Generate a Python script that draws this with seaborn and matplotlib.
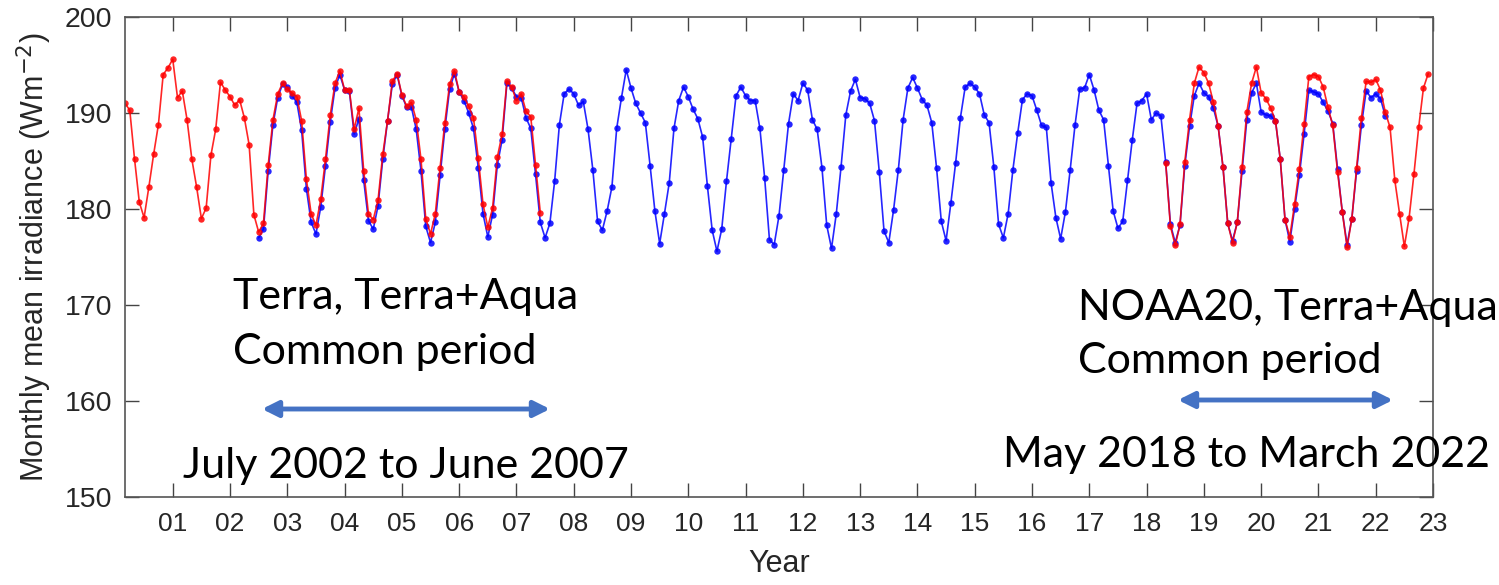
import numpy as np
import pandas as pd
import matplotlib
matplotlib.use("Agg")
import matplotlib.pyplot as plt
import seaborn as sns

# Terra+Aqua (blue), Jul 2002 - Mar 2022
blue_start = "2002-07-01"
blue_vals = [
    177.0, 177.9, 184.0, 188.8, 191.6, 193.0,
    192.7, 191.8, 191.1, 188.2, 182.1, 178.6, 177.4, 180.2, 184.5, 189.1, 192.6, 194.0,
    192.4, 192.3, 187.8, 189.4, 183.0, 178.8, 177.9, 180.3, 185.2, 189.2, 193.0, 194.0,
    191.8, 190.6, 190.6, 188.3, 184.0, 178.2, 176.5, 178.6, 183.5, 188.3, 192.5, 194.1,
    192.2, 191.3, 190.0, 188.4, 184.3, 179.5, 177.1, 179.4, 184.6, 187.2, 193.1, 192.6,
    191.7, 191.6, 189.5, 188.4, 183.6, 178.6, 177.0, 178.5, 182.9, 188.8, 192.0, 192.5,
    192.0, 190.8, 191.2, 188.3, 184.1, 178.7, 177.8, 179.8, 182.3, 188.4, 191.6, 194.5,
    192.6, 191.0, 190.0, 189.0, 184.5, 179.8, 176.4, 179.5, 182.7, 188.4, 191.3, 192.7,
    191.7, 190.4, 189.4, 187.5, 182.4, 177.8, 175.6, 177.9, 182.9, 187.3, 191.8, 192.7,
    191.8, 191.3, 191.3, 188.4, 183.2, 176.8, 176.3, 179.3, 184.1, 188.9, 192.0, 191.3,
    193.1, 192.4, 189.3, 188.3, 184.3, 178.3, 175.9, 179.5, 184.4, 189.8, 192.3, 193.5,
    191.6, 191.5, 191.0, 189.2, 183.9, 177.7, 176.5, 179.9, 184.1, 189.3, 192.6, 193.7,
    192.6, 191.4, 190.8, 189.0, 184.3, 178.7, 176.7, 180.6, 184.8, 189.5, 192.7, 193.1,
    192.7, 192.0, 189.8, 189.0, 184.4, 178.4, 177.0, 179.5, 184.1, 187.9, 191.4, 192.0,
    191.8, 190.3, 188.7, 188.5, 182.7, 179.1, 176.9, 179.7, 184.1, 188.7, 192.5, 192.6,
    194.0, 192.4, 190.3, 189.3, 184.5, 179.8, 178.0, 178.7, 183.0, 187.2, 191.0, 191.3,
    192.0, 189.3, 190.0, 189.7, 184.9, 178.4, 176.5, 178.3, 184.5, 188.6, 191.8, 193.1,
    192.1, 191.7, 190.5, 188.6, 184.4, 178.5, 176.7, 178.6, 184.0, 189.3, 192.1, 193.1,
    190.1, 189.8, 189.7, 189.2, 185.2, 178.9, 176.6, 180.0, 183.5, 187.8, 192.4, 192.2,
    192.0, 191.1, 190.2, 188.9, 184.2, 179.7, 176.3, 179.0, 184.0, 188.7, 192.3, 191.6,
    192.0, 191.5, 189.7,
]

# Terra only / Terra+Aqua (red), Mar 2000 - Jun 2007
red1_start = "2000-03-01"
red1_vals = [
    191.0, 190.3, 185.2, 180.7, 179.1, 182.3, 185.7, 188.8, 194.0, 194.7,
    195.6, 191.6, 192.3, 189.3, 185.2, 182.3, 179.0, 180.1, 185.6, 188.3, 193.2, 192.4,
    191.7, 190.8, 191.4, 189.5, 186.7, 179.4, 177.6, 178.5, 184.6, 189.3, 192.0, 193.1,
    192.5, 192.1, 191.7, 189.2, 183.1, 179.5, 178.3, 181.0, 185.2, 189.8, 193.1, 194.4,
    192.4, 192.4, 188.3, 190.5, 184.0, 179.5, 178.9, 180.9, 185.7, 189.2, 193.3, 194.1,
    191.9, 190.7, 191.1, 189.3, 185.2, 179.0, 177.4, 179.5, 184.3, 189.0, 193.0, 194.4,
    192.2, 191.7, 190.7, 189.5, 185.3, 180.5, 178.1, 180.1, 185.4, 187.8, 193.3, 192.7,
    191.3, 192.0, 190.2, 189.6, 184.6, 179.6,
]

# NOAA20 (red), May 2018 - Dec 2022
red2_start = "2018-05-01"
red2_vals = [
    184.8, 178.2, 176.2, 178.4, 184.9, 189.3, 193.1, 194.8,
    194.2, 193.1, 191.1, 188.6, 184.4, 178.5, 176.5, 178.6, 184.4, 190.1, 193.1, 194.8,
    192.1, 191.5, 190.5, 189.2, 185.2, 178.9, 177.1, 180.5, 184.2, 188.9, 193.8, 194.0,
    193.8, 192.7, 190.6, 188.7, 183.9, 179.7, 176.0, 179.0, 184.3, 189.5, 193.3, 193.2,
    193.5, 192.4, 190.1, 188.5, 183.0, 179.5, 176.1, 179.1, 183.6, 188.5, 192.6, 194.1,
]

year_ticks = list(range(2001, 2024))
year_labels = [f"{y % 100:02d}" for y in year_ticks]


def to_frame(start, vals):
    d = pd.date_range(start, periods=len(vals), freq="MS")
    return pd.DataFrame({"year": d.year + (d.month - 1) / 12.0, "irr": vals})


df_blue = to_frame(blue_start, blue_vals)
df_red1 = to_frame(red1_start, red1_vals)
df_red2 = to_frame(red2_start, red2_vals)

sns.set_style("ticks")
plt.rcParams["font.family"] = ["Liberation Sans", "DejaVu Sans"]

W, H = 1499, 585
fig = plt.figure(figsize=(W / 100, H / 100), dpi=100)
ax = fig.add_axes([125 / W, (H - 497) / H, 1308 / W, 480 / H])

line_kw = dict(marker="o", markersize=4.6, markeredgewidth=0, linewidth=1.2, alpha=0.85)
sns.lineplot(data=df_blue, x="year", y="irr", color="#0000ff", ax=ax, **line_kw)
sns.lineplot(data=df_red1, x="year", y="irr", color="#ff0000", ax=ax, **line_kw)
sns.lineplot(data=df_red2, x="year", y="irr", color="#ff0000", ax=ax, **line_kw)

ax.set_xlim(2000 + 2 / 12, 2023)
ax.set_ylim(150, 200)
ax.set_xticks(year_ticks)
ax.set_xticklabels(year_labels)
ax.set_yticks(range(150, 201, 10))
ax.tick_params(direction="in", length=10, width=1, top=True, right=True,
               colors="#444444", labelcolor="#262626")
ax.tick_params(axis="x", pad=11, labelsize=19)
ax.tick_params(axis="y", pad=9, labelsize=20.5)
for s in ax.spines.values():
    s.set_visible(True)
    s.set_color("#555555")
    s.set_linewidth(1.2)

ax.set_xlabel("Year", fontsize=22, color="#262626", labelpad=9)
ax.set_ylabel("Monthly mean irradiance (Wm$^{-2}$)", fontsize=22, color="#262626", labelpad=8)


def fx(px):
    return px / W


def fy(py):
    return 1 - py / H


txt_kw = dict(fontsize=31, family=["Lato", "DejaVu Sans"], color="black", va="center", ha="left")
fig.text(fx(233), fy(297), "Terra, Terra+Aqua", **txt_kw)
fig.text(fx(233), fy(352), "Common period", **txt_kw)
fig.text(fx(183), fy(466), "July 2002 to June 2007", **txt_kw)
fig.text(fx(1078), fy(308), "NOAA20, Terra+Aqua", **txt_kw)
fig.text(fx(1078), fy(361), "Common period", **txt_kw)
fig.text(fx(1003), fy(455), "May 2018 to March 2022", **txt_kw)

arrow_kw = dict(arrowstyle="<|-|>", color="#4472c4", lw=3.5, mutation_scale=24, shrinkA=0, shrinkB=0)
ax.annotate("", xy=(fx(550), fy(409)), xytext=(fx(262), fy(409)),
            xycoords="figure fraction", textcoords="figure fraction", arrowprops=arrow_kw)
ax.annotate("", xy=(fx(1393), fy(400)), xytext=(fx(1178), fy(400)),
            xycoords="figure fraction", textcoords="figure fraction", arrowprops=arrow_kw)

fig.savefig("out.png", dpi=100, facecolor="white")
